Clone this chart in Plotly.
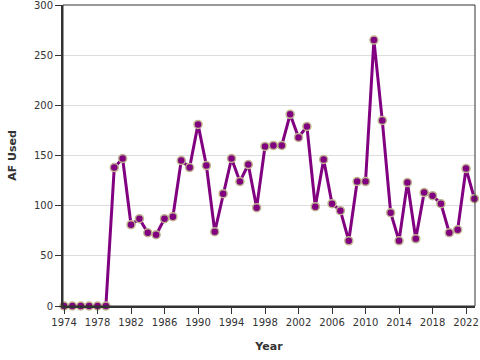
import plotly.graph_objects as go

years = list(range(1974, 2024))
af_used = [0, 0, 0, 0, 0, 0, 138, 147, 81, 87, 73, 71, 87, 89, 145, 138, 181, 140,
           74, 112, 147, 124, 141, 98, 159, 160, 160, 191, 168, 179, 99, 146, 102, 95,
           65, 124, 124, 265, 185, 93, 65, 123, 67, 113, 110, 102, 73, 76, 137, 107]
x_ticks = list(range(1974, 2024, 4))
y_ticks = [0, 50, 100, 150, 200, 250, 300]

fig = go.Figure()
fig.add_trace(go.Scatter(
    x=years, y=af_used, mode="lines+markers",
    line=dict(color="#800080", width=3),
    marker=dict(size=8, color="#800080", line=dict(color="#bdb38e", width=1.5)),
    cliponaxis=False, showlegend=False,
))

fig.update_layout(
    width=480, height=360,
    margin=dict(l=63, r=5, t=5, b=54),
    paper_bgcolor="white", plot_bgcolor="white",
    font=dict(family="DejaVu Sans", size=10, color="#333"),
    xaxis=dict(
        range=[1973.88, 2023.07], tickvals=x_ticks, showgrid=False, zeroline=False,
        showline=True, linecolor="#333", linewidth=2, automargin=False,
        ticks="outside", ticklen=6, tickcolor="#333", tickwidth=1,
        ticklabeloverflow="allow",
        title=dict(text="<b>Year</b>", font=dict(size=11, color="#333")),
    ),
    yaxis=dict(
        range=[0, 300], tickvals=y_ticks, showgrid=True, gridcolor="#dddddd", gridwidth=1,
        zeroline=False, showline=True, linecolor="#333", linewidth=2, automargin=False,
        ticks="outside", ticklen=6, tickcolor="#333", tickwidth=1,
        ticklabeloverflow="allow",
        title=dict(text="<b>AF Used</b>", font=dict(size=11, color="#333")),
    ),
    shapes=[dict(type="rect", xref="paper", yref="paper", x0=0, x1=1, y0=0, y1=1,
                 line=dict(color="#333", width=1), layer="above")],
)

fig.write_html("out.html", config={"displayModeBar": False},
               post_script="document.body.style.margin='0';")
